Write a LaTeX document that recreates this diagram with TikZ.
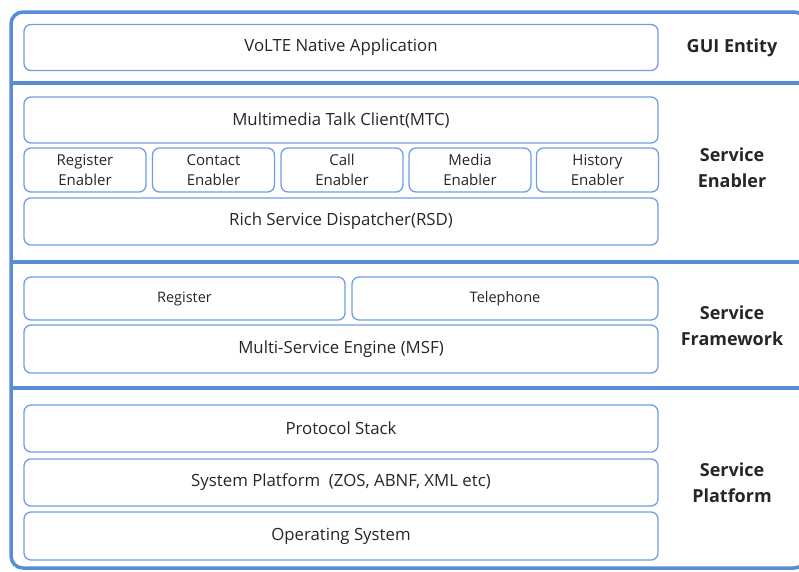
\documentclass[tikz,border=0pt]{standalone}
\usepackage{fontspec}
\setmainfont{Open Sans}
\definecolor{framecol}{RGB}{88,141,214}
\definecolor{boxcol}{RGB}{112,158,226}
\definecolor{txtcol}{RGB}{38,38,38}
\tikzset{
  layerbox/.style={draw=boxcol, line width=1.3pt, rounded corners=7pt, rectangle,
    minimum width=634pt, minimum height=46pt, inner sep=0pt, text=txtcol,
    font=\fontsize{16.8}{20}\selectfont, align=center},
  enabler/.style={layerbox, minimum width=122pt, minimum height=44pt,
    font=\fontsize{15}{20}\selectfont},
  layername/.style={text=txtcol, font=\fontsize{18}{26}\selectfont\bfseries, align=center}
}
\begin{document}
\begin{tikzpicture}[x=1pt,y=-1pt]
\useasboundingbox (0,0) rectangle (799,571);
\draw[framecol, line width=3.5pt, rounded corners=12pt] (11,12) rectangle (806,568);
\draw[framecol, line width=3.5pt] (11,83) -- (800,83);
\draw[framecol, line width=3.5pt] (11,262) -- (800,262);
\draw[framecol, line width=3.5pt] (11,388) -- (800,388);

\node[layerbox] (app) at (341,47.5) {VoLTE Native Application};

\node[layerbox] (mtc) at (341,120) {Multimedia Talk Client(MTC)};
\node[enabler] (regen) at (85,170) {Register\\Enabler};
\node[enabler] (conen) at (213.5,170) {Contact\\Enabler};
\node[enabler] (callen) at (342,170) {Call\\Enabler};
\node[enabler] (meden) at (470,170) {Media\\Enabler};
\node[enabler] (hisen) at (597.5,170) {History\\Enabler};
\node[layerbox, minimum height=47pt] (rsd) at (341,221.5) {Rich Service Dispatcher(RSD)};

\node[layerbox, minimum width=321pt, minimum height=43pt, font=\fontsize{14.5}{20}\selectfont] (reg) at (184.5,298.5) {Register};
\node[layerbox, minimum width=306pt, minimum height=43pt, font=\fontsize{14.5}{20}\selectfont] (tel) at (505,298.5) {Telephone};
\node[layerbox, minimum height=48pt] (msf) at (341,349) {Multi-Service Engine (MSF)};

\node[layerbox, minimum height=47pt] (ps) at (341,428.5) {Protocol Stack};
\node[layerbox, minimum height=47pt] (sys) at (341,482.5) {System Platform\ \ (ZOS, ABNF, XML etc)};
\node[layerbox, minimum height=48pt] (os) at (341,536) {Operating System};

\node[layername] (gui) at (732,48) {GUI Entity};
\node[layername] (se) at (732,168) {Service\\Enabler};
\node[layername] (sf) at (732,326) {Service\\Framework};
\node[layername] (sp) at (732,483) {Service\\Platform};
\end{tikzpicture}
\end{document}
